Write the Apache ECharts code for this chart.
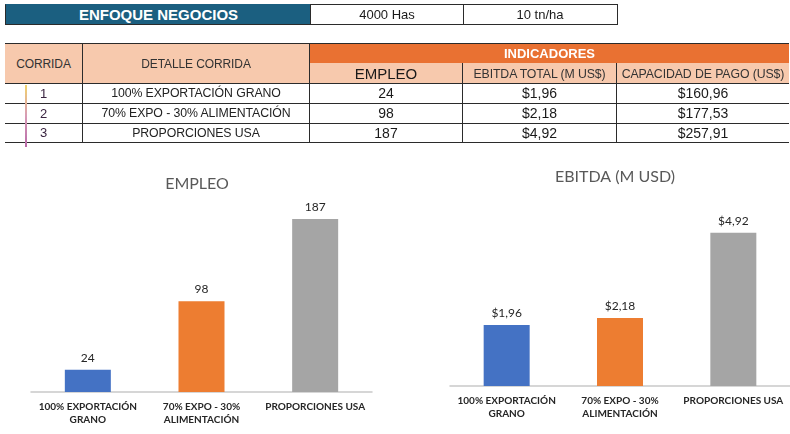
<!DOCTYPE html>
<html>
<head>
<meta charset="utf-8">
<script src="https://cdn.jsdelivr.net/npm/echarts@6/dist/echarts.min.js"></script>
<style>
  html, body { margin: 0; padding: 0; background: #fff; }
  #wrap { position: relative; width: 790px; height: 434px; overflow: hidden; }
  #chart { position: absolute; left: 0; top: 0; width: 790px; height: 434px; }
  .cell { position: absolute; box-sizing: border-box; display: flex; align-items: center; justify-content: center;
          font-family: "Liberation Sans", Arial, sans-serif; font-size: 14px; color: #1a1a1a; white-space: nowrap; }
  .narrow { font-size: 12.3px; color: #333; letter-spacing: -0.1px; }
</style>
</head>
<body>
<div id="wrap">
  <div id="chart"></div>
  <div id="table"></div>
</div>
<script>
// datos de la tabla / graficos
const enfoque = ['ENFOQUE NEGOCIOS', '4000 Has', '10 tn/ha'];
const corridas = ['1', '2', '3'];
const detalle = ['100% EXPORTACIÓN GRANO', '70% EXPO - 30% ALIMENTACIÓN', 'PROPORCIONES USA'];
const categories = ['100% EXPORTACIÓN\nGRANO', '70% EXPO - 30%\nALIMENTACIÓN', 'PROPORCIONES USA'];
const empleo = [24, 98, 187];
const ebitda = [1.96, 2.18, 4.92];
const capacidadPago = [160.96, 177.53, 257.91];
const headers = ['CORRIDA', 'DETALLE CORRIDA', 'INDICADORES', 'EMPLEO', 'EBITDA TOTAL (M US$)', 'CAPACIDAD DE PAGO (US$)'];

const barColors = ['#4472C4', '#ED7D31', '#A5A5A5'];
const money = v => '$' + v.toFixed(2).replace('.', ',');

// ---- tabla (html) ----
const table = document.getElementById('table');
function cell(x, y, w, h, text, style, cls) {
    const d = document.createElement('div');
    d.className = 'cell' + (cls ? ' ' + cls : '');
    d.style.left = x + 'px'; d.style.top = y + 'px';
    d.style.width = w + 'px'; d.style.height = h + 'px';
    d.textContent = text;
    Object.assign(d.style, style || {});
    table.appendChild(d);
}
const bd = '1px solid #2b2b2b';
// banner
cell(5, 4, 306, 21, enfoque[0], {background: '#1B5F80', color: '#fff', fontWeight: 'bold', fontSize: '15px', borderLeft: bd, borderBottom: bd, borderTop: '1px solid #1B5F80'});
cell(310, 4, 154, 21, enfoque[1], {border: bd, fontSize: '13px'});
cell(463, 4, 155, 21, enfoque[2], {border: bd, borderLeft: 'none', fontSize: '13px'});

const cols = [5, 83, 310, 463, 617, 788];
const rows = [43, 63, 83, 103, 123, 142];
const salmon = '#F7C9AD';
cell(cols[0], rows[0], cols[1] - cols[0], rows[2] - rows[0] + 1, headers[0], {background: salmon, borderTop: bd, borderRight: bd, borderBottom: bd, fontSize: '12px'}, 'narrow');
cell(cols[1], rows[0], cols[2] - cols[1], rows[2] - rows[0] + 1, headers[1], {background: salmon, borderTop: bd, borderRight: bd, borderBottom: bd, fontSize: '12px'}, 'narrow');
cell(cols[2], rows[0], cols[5] - cols[2] + 1, rows[1] - rows[0] + 1, headers[2], {background: '#E97132', color: '#fff', fontWeight: 'bold', fontSize: '13px', borderTop: bd, borderBottom: bd});
cell(cols[2], rows[1], cols[3] - cols[2], rows[2] - rows[1] + 1, headers[3], {background: salmon, borderRight: bd, borderBottom: bd, fontSize: '15px'});
cell(cols[3], rows[1], cols[4] - cols[3], rows[2] - rows[1] + 1, headers[4], {background: salmon, borderRight: bd, borderBottom: bd, paddingTop: '2px'}, 'narrow');
cell(cols[4], rows[1], cols[5] - cols[4] + 1, rows[2] - rows[1] + 1, headers[5], {background: salmon, borderBottom: bd, paddingTop: '2px'}, 'narrow');

for (let i = 0; i < 3; i++) {
    const y = rows[2 + i], h = rows[3 + i] - y + 1;
    const line = {borderBottom: bd, borderRight: bd};
    cell(cols[0], y, cols[1] - cols[0], h, corridas[i], Object.assign({color: '#3a2440', fontSize: '13px'}, line));
    cell(cols[1], y, cols[2] - cols[1], h, detalle[i], Object.assign({color: '#222'}, line), 'narrow');
    cell(cols[2], y, cols[3] - cols[2], h, String(empleo[i]), line);
    cell(cols[3], y, cols[4] - cols[3], h, money(ebitda[i]), line);
    cell(cols[4], y, cols[5] - cols[4] + 1, h, money(capacidadPago[i]), {borderBottom: bd});
}
// linea de color a la izquierda
const mark = document.createElement('div');
Object.assign(mark.style, {position: 'absolute', left: '25px', top: '85px', width: '2px', height: '62px',
    background: 'linear-gradient(#f2d36b, #d79bb6, #b86aa8)'});
table.appendChild(mark);

// ---- graficos ----
const chart = echarts.init(document.getElementById('chart'));
const labelFont = 'Lato, "Open Sans", sans-serif';
function xAxis(grid) {
    return {
        type: 'category', gridIndex: grid, data: categories,
        axisLine: {lineStyle: {color: '#c9c9c9', width: 1.5}},
        axisTick: {show: false},
        axisLabel: {interval: 0, color: '#262626', fontSize: 10, fontWeight: 'bold', fontFamily: labelFont, lineHeight: 13, margin: 8}
    };
}
chart.setOption({
    animation: false,
    title: [
        {text: 'EMPLEO', left: 192, top: 171, textAlign: 'center',
         textStyle: {color: '#595959', fontSize: 16, fontWeight: 'normal', fontFamily: labelFont}},
        {text: 'EBITDA (M USD)', left: 610, top: 164, textAlign: 'center',
         textStyle: {color: '#595959', fontSize: 16, fontWeight: 'normal', fontFamily: labelFont}}
    ],
    grid: [
        {left: 31, top: 207, width: 341, height: 185},
        {left: 450, top: 199, width: 340, height: 187}
    ],
    xAxis: [xAxis(0), xAxis(1)],
    yAxis: [
        {type: 'value', gridIndex: 0, min: 0, max: 200, show: false},
        {type: 'value', gridIndex: 1, min: 0, max: 6, show: false}
    ],
    series: [
        {
            type: 'bar', xAxisIndex: 0, yAxisIndex: 0, barWidth: 46,
            data: empleo.map((v, i) => ({value: v, itemStyle: {color: barColors[i]}})),
            label: {show: true, position: 'top', distance: 6, color: '#262626', fontSize: 12, fontFamily: labelFont}
        },
        {
            type: 'bar', xAxisIndex: 1, yAxisIndex: 1, barWidth: 46,
            data: ebitda.map((v, i) => ({value: v, itemStyle: {color: barColors[i]}})),
            label: {show: true, position: 'top', distance: 6, color: '#262626', fontSize: 12, fontFamily: labelFont,
                formatter: p => money(p.value)}
        }
    ]
});
</script>
</body>
</html>
